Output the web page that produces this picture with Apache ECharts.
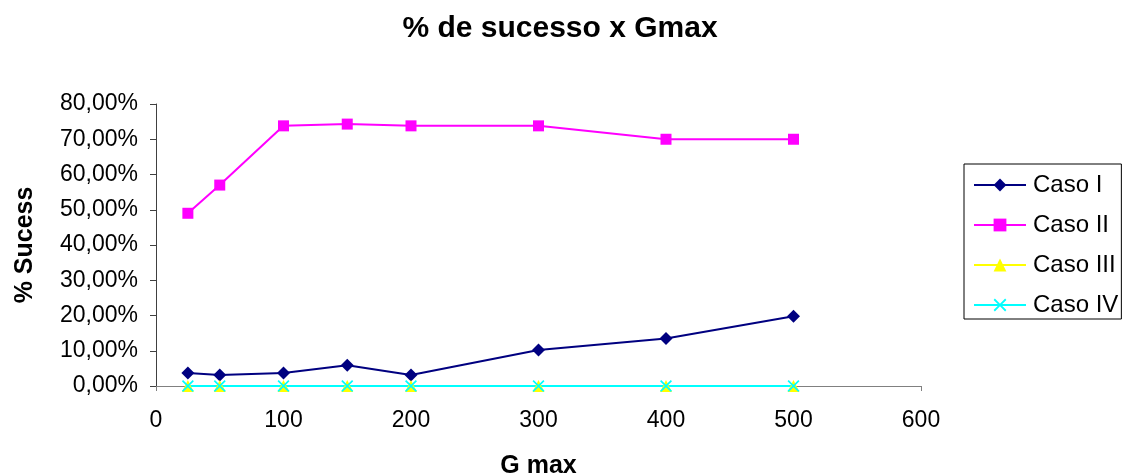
<!DOCTYPE html>
<html>
<head>
<meta charset="utf-8">
<script src="https://cdn.jsdelivr.net/npm/echarts@6/dist/echarts.min.js"></script>
<style>
html,body{margin:0;padding:0;background:#fff;}
#chart{width:1123px;height:475px;}
</style>
</head>
<body>
<div id="chart"></div>
<script>
const gmax = [25, 50, 100, 150, 200, 300, 400, 500];
const casoI = [3.7, 3.1, 3.7, 5.9, 3.1, 10.2, 13.5, 19.8];
const casoII = [49.0, 57.0, 73.8, 74.3, 73.8, 73.8, 70.0, 70.0];
const casoIII = [0, 0, 0, 0, 0, 0, 0, 0];
const casoIV = [0, 0, 0, 0, 0, 0, 0, 0];
const seriesNames = ['Caso I', 'Caso II', 'Caso III', 'Caso IV'];
const titleText = '% de sucesso x Gmax';
const xName = 'G max';
const yName = '% Sucess';

const FONT = 'Liberation Sans, Arial, sans-serif';
const xSymbol = 'path://M0,1L1,0L5,4L9,0L10,1L6,5L10,9L9,10L5,6L1,10L0,9L4,5Z';

function pairs(ys){ return gmax.map((x,i)=>[x, ys[i]]); }

const chart = echarts.init(document.getElementById('chart'));
chart.setOption({
  animation: false,
  backgroundColor: '#fff',
  title: {
    text: titleText, left: 555, top: 9, textAlign: 'center',
    textStyle: {fontFamily: FONT, fontWeight: 'bold', fontSize: 30, color: '#000'}
  },
  legend: {
    orient: 'vertical', left: 964, top: 164,
    padding: [9, 3, 2, 9], itemGap: 16, itemWidth: 52, itemHeight: 16,
    borderColor: '#000', borderWidth: 1, backgroundColor: '#fff', borderRadius: 0,
    textStyle: {fontFamily: FONT, fontSize: 24, color: '#000', padding: [0,0,0,2]},
    data: seriesNames
  },
  grid: {left: 156, right: 202, top: 104, bottom: 89, containLabel: false, outerBoundsMode: 'none'},
  xAxis: {
    type: 'value', min: 0, max: 600, interval: 100,
    name: xName, nameLocation: 'middle', nameGap: 68,
    nameTextStyle: {fontFamily: FONT, fontWeight: 'bold', fontSize: 25, color: '#000'},
    axisLine: {show: true, onZero: false, lineStyle: {color: '#808080', width: 1}},
    axisTick: {show: true, inside: false, length: 5, lineStyle: {color: '#808080'}},
    axisLabel: {fontFamily: FONT, fontSize: 23, color: '#000', margin: 23},
    splitLine: {show: false}
  },
  yAxis: {
    type: 'value', min: 0, max: 80, interval: 10,
    name: yName, nameLocation: 'middle', nameGap: 118, nameRotate: 90,
    nameTextStyle: {fontFamily: FONT, fontWeight: 'bold', fontSize: 25, color: '#000'},
    axisLine: {show: true, lineStyle: {color: '#404040', width: 1}},
    axisTick: {show: true, inside: false, length: 6, lineStyle: {color: '#404040'}},
    axisLabel: {fontFamily: FONT, fontSize: 23, color: '#000', margin: 18,
      formatter: v => v.toFixed(2).replace('.', ',') + '%'},
    splitLine: {show: false}
  },
  series: [
    {name: seriesNames[0], type: 'line', data: pairs(casoI), symbol: 'diamond', symbolSize: 13,
     itemStyle: {color: '#000080'}, lineStyle: {color: '#000080', width: 2}},
    {name: seriesNames[1], type: 'line', data: pairs(casoII), symbol: 'rect', symbolSize: 11,
     itemStyle: {color: '#ff00ff'}, lineStyle: {color: '#ff00ff', width: 2}},
    {name: seriesNames[2], type: 'line', data: pairs(casoIII), symbol: 'triangle', symbolSize: 12,
     itemStyle: {color: '#ffff00'}, lineStyle: {color: '#ffff00', width: 2}},
    {name: seriesNames[3], type: 'line', data: pairs(casoIV), symbol: xSymbol, symbolSize: 12,
     itemStyle: {color: '#00ffff'}, lineStyle: {color: '#00ffff', width: 2}}
  ]
});
</script>
</body>
</html>
